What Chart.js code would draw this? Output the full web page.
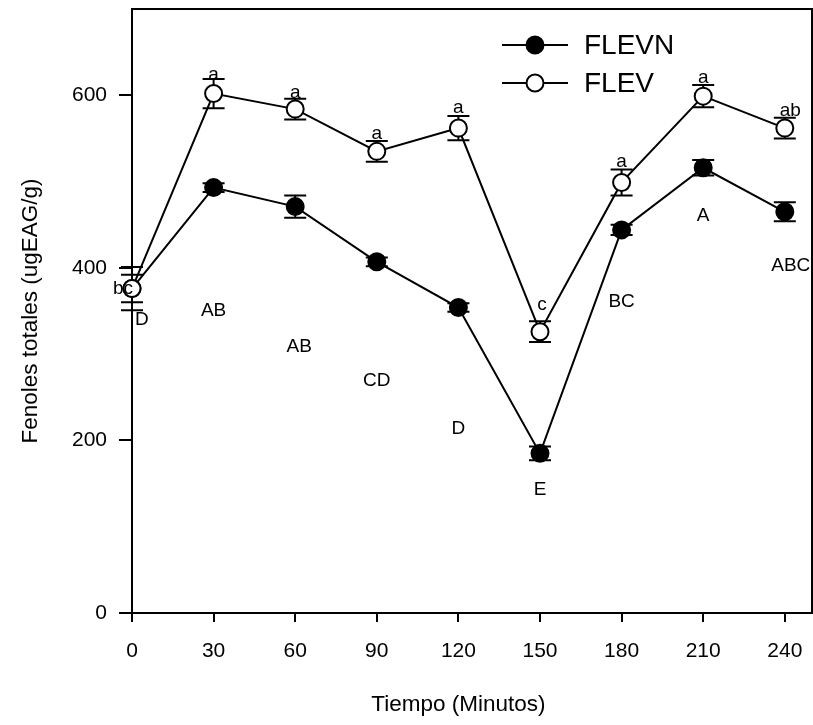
<!DOCTYPE html>
<html>
<head>
<meta charset="utf-8">
<script src="https://cdn.jsdelivr.net/npm/chart.js@4"></script>
<style>
  body { margin: 0; background: #fff; }
  #wrap { width: 813px; height: 725px; }
</style>
</head>
<body>
<div id="wrap"><canvas id="fenoles" width="813" height="725"></canvas></div>
<script>
const tiempo = [0, 30, 60, 90, 120, 150, 180, 210, 240];

const flevn = [376, 493, 471, 407, 354, 185, 444, 516, 465];
const flevnErr = [16, 5, 13, 5, 5, 8, 6, 9, 11];
const flevnLetras = ["D", "AB", "AB", "CD", "D", "E", "BC", "A", "ABC"];
const flevnLetrasX = [3.6, 30, 61.5, 90, 120, 150, 180, 210, 242.2];
const flevnLetrasY = [340, 350, 309, 269, 214, 143, 361, 460, 402];

const flev = [376, 602, 584, 535, 562, 326, 499, 599, 562];
const flevErr = [25, 17, 12, 12, 14, 12, 15, 13, 12];
const flevLetras = ["bc", "a", "a", "a", "a", "c", "a", "a", "ab"];
const flevLetrasX = [-3.3, 30, 60, 90, 120, 150.7, 180, 210, 242];
const flevLetrasY = [376, 624, 603, 555, 586, 357, 523, 620, 582];

const xTicks = [0, 30, 60, 90, 120, 150, 180, 210, 240];
const yTicks = [0, 200, 400, 600];
const tituloX = "Tiempo (Minutos)";

const fuente = "'Liberation Sans', Arial, sans-serif";

function puntos(ys) {
  return tiempo.map((t, i) => ({ x: t, y: ys[i] }));
}

// error bars go under the markers
const barrasError = {
  id: "barrasError",
  beforeDatasetsDraw(chart) {
    const ctx = chart.ctx;
    const xs = chart.scales.x;
    const ys = chart.scales.y;
    ctx.save();
    ctx.strokeStyle = "#000";
    ctx.lineWidth = 2;
    chart.data.datasets.forEach((ds) => {
      ds.data.forEach((p, i) => {
        const px = xs.getPixelForValue(p.x);
        const top = ys.getPixelForValue(p.y + ds.err[i]);
        const bot = ys.getPixelForValue(p.y - ds.err[i]);
        ctx.beginPath();
        ctx.moveTo(px, top);
        ctx.lineTo(px, bot);
        ctx.moveTo(px - 11, top);
        ctx.lineTo(px + 11, top);
        ctx.moveTo(px - 11, bot);
        ctx.lineTo(px + 11, bot);
        ctx.stroke();
      });
    });
    ctx.restore();
  },
};

// letters, frame, x title and legend
const extras = {
  id: "extras",
  afterDatasetsDraw(chart) {
    const ctx = chart.ctx;
    const xs = chart.scales.x;
    const ys = chart.scales.y;
    const a = chart.chartArea;
    ctx.save();

    ctx.strokeStyle = "#000";
    ctx.lineWidth = 2;
    ctx.beginPath();
    ctx.moveTo(a.left, a.top);
    ctx.lineTo(a.right, a.top);
    ctx.lineTo(a.right, a.bottom);
    ctx.stroke();

    ctx.fillStyle = "#000";
    ctx.font = "19px " + fuente;
    ctx.textAlign = "center";
    ctx.textBaseline = "middle";
    flevnLetras.forEach((t, i) => {
      ctx.fillText(t, xs.getPixelForValue(flevnLetrasX[i]), ys.getPixelForValue(flevnLetrasY[i]));
    });
    flevLetras.forEach((t, i) => {
      ctx.fillText(t, xs.getPixelForValue(flevLetrasX[i]), ys.getPixelForValue(flevLetrasY[i]));
    });

    // x title sits under the middle of the tick range
    ctx.font = "22.5px " + fuente;
    const mid = (xs.getPixelForValue(xTicks[0]) + xs.getPixelForValue(xTicks[xTicks.length - 1])) / 2;
    ctx.fillText(tituloX, mid, 705);

    // legend: line - marker - line, then label
    const filas = [45, 83];
    chart.data.datasets.forEach((ds, i) => {
      const y = filas[i];
      ctx.lineWidth = 2;
      ctx.strokeStyle = "#000";
      ctx.beginPath();
      ctx.moveTo(502, y);
      ctx.lineTo(568, y);
      ctx.stroke();
      ctx.beginPath();
      ctx.arc(535, y, ds.pointRadius, 0, Math.PI * 2);
      ctx.fillStyle = ds.pointBackgroundColor;
      ctx.fill();
      ctx.stroke();
      ctx.fillStyle = "#000";
      ctx.font = "28px " + fuente;
      ctx.textAlign = "left";
      ctx.fillText(ds.label, 584, y + 1);
    });
    ctx.restore();
  },
};

new Chart(document.getElementById("fenoles").getContext("2d"), {
  type: "line",
  data: {
    datasets: [
      {
        label: "FLEVN",
        data: puntos(flevn),
        err: flevnErr,
        borderColor: "#000",
        borderWidth: 2,
        pointRadius: 8.5,
        pointBorderWidth: 2,
        pointBorderColor: "#000",
        pointBackgroundColor: "#000",
        clip: false,
        order: 1,
      },
      {
        label: "FLEV",
        data: puntos(flev),
        err: flevErr,
        borderColor: "#000",
        borderWidth: 2,
        pointRadius: 8.5,
        pointBorderWidth: 2,
        pointBorderColor: "#000",
        pointBackgroundColor: "#fff",
        clip: false,
        order: 0,
      },
    ],
  },
  options: {
    responsive: false,
    animation: false,
    events: [],
    layout: { autoPadding: false, padding: { top: 9, right: 1, left: 0, bottom: 0 } },
    plugins: {
      legend: { display: false },
      tooltip: { enabled: false },
    },
    scales: {
      x: {
        type: "linear",
        min: 0,
        max: 250,
        afterBuildTicks: (s) => { s.ticks = xTicks.map((v) => ({ value: v })); },
        afterFit: (s) => {
          s.height = 112;
          s.paddingLeft = 0;
          s.paddingRight = 0;
        },
        border: { display: true, color: "#000", width: 2 },
        grid: { drawOnChartArea: false, drawTicks: true, tickLength: 9, color: "#000", lineWidth: 2 },
        ticks: { color: "#000", padding: 17, maxRotation: 0, font: { family: fuente, size: 21 } },
      },
      y: {
        min: 0,
        max: 700,
        afterBuildTicks: (s) => { s.ticks = yTicks.map((v) => ({ value: v })); },
        afterFit: (s) => {
          s.width = 132;
          s.paddingTop = 0;
          s.paddingBottom = 0;
        },
        border: { display: true, color: "#000", width: 2 },
        grid: { drawOnChartArea: false, drawTicks: true, tickLength: 13, color: "#000", lineWidth: 2 },
        ticks: { color: "#000", padding: 12, font: { family: fuente, size: 21 } },
        title: {
          display: true,
          text: "Fenoles totales (ugEAG/g)",
          color: "#000",
          font: { family: fuente, size: 22.5 },
          padding: { top: 17, bottom: 0 },
        },
      },
    },
  },
  plugins: [barrasError, extras],
});
</script>
</body>
</html>
